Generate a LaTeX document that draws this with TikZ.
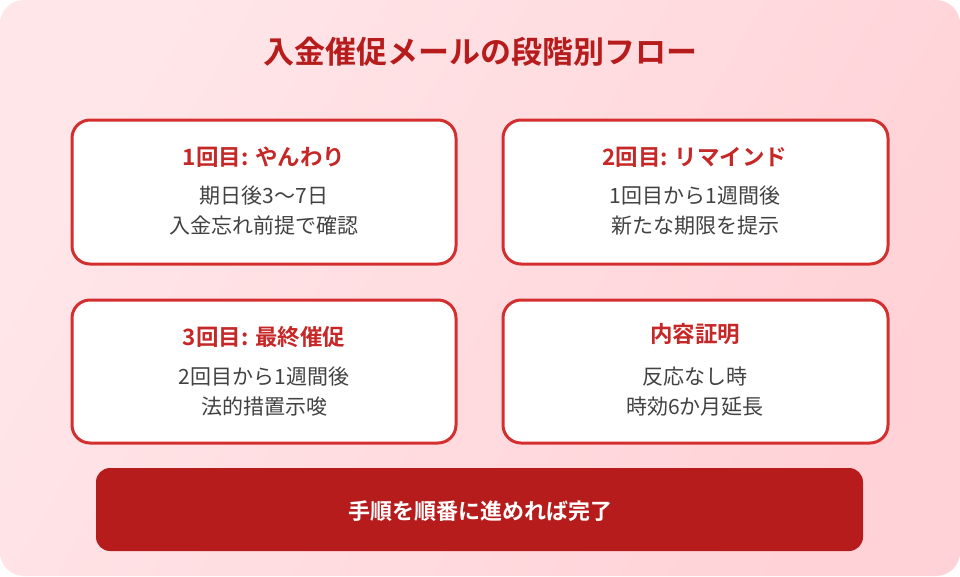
\documentclass[tikz,border=0pt]{standalone}
\usepackage{fontspec}
\setmainfont{Noto Sans CJK JP}[BoldFont={Noto Sans CJK JP Bold}]
\definecolor{bgA}{HTML}{FFE6E9}
\definecolor{bgB}{HTML}{FFD2D7}
\definecolor{titlered}{HTML}{B71C1C}
\definecolor{boxred}{HTML}{D32F2F}
\definecolor{headred}{HTML}{C62828}
\definecolor{bodygray}{HTML}{424242}
\definecolor{barred}{HTML}{B71C1C}
\tikzset{
  x=1pt, y=-1pt,
  card/.style={draw=boxred, line width=3pt, fill=white, rounded corners=18pt},
  cardhead/.style={font=\bfseries\fontsize{22.5}{26}\selectfont, text=headred, anchor=center, inner sep=0pt},
  cardbody/.style={font=\fontsize{21}{30}\selectfont, text=bodygray, align=center, anchor=center, inner sep=0pt},
  bar/.style={fill=barred, rounded corners=14pt},
}
\begin{document}
\begin{tikzpicture}
\useasboundingbox (0,0) rectangle (960,576);
\shade[left color=bgA, right color=bgB, shading angle=60, rounded corners=24pt] (0,0) rectangle (960,576);
\node[font=\bfseries\fontsize{31}{34}\selectfont, text=titlered, inner sep=0pt] (title) at (480,52) {入金催促メールの段階別フロー};
% cards
\draw[card] (72,120) rectangle (456,264);
\draw[card] (503,120) rectangle (888,264);
\draw[card] (72,300) rectangle (456,443);
\draw[card] (503,300) rectangle (888,443);
\node[cardhead] (h1) at (264,157) {1回目: やんわり};
\node[cardbody] (b1) at (264,211) {期日後3〜7日\\入金忘れ前提で確認};
\node[cardhead] (h2) at (695,157) {2回目: リマインド};
\node[cardbody] (b2) at (695,211) {1回目から1週間後\\新たな期限を提示};
\node[cardhead] (h3) at (264,337) {3回目: 最終催促};
\node[cardbody] (b3) at (264,392) {2回目から1週間後\\法的措置示唆};
\node[cardhead] (h4) at (695,334) {内容証明};
\node[cardbody] (b4) at (695,392) {反応なし時\\時効6か月延長};
% bar
\fill[bar] (96,468) rectangle (863,551);
\node[font=\bfseries\fontsize{22}{24}\selectfont, text=white, inner sep=0pt] (done) at (480,511) {手順を順番に進めれば完了};
\end{tikzpicture}
\end{document}
